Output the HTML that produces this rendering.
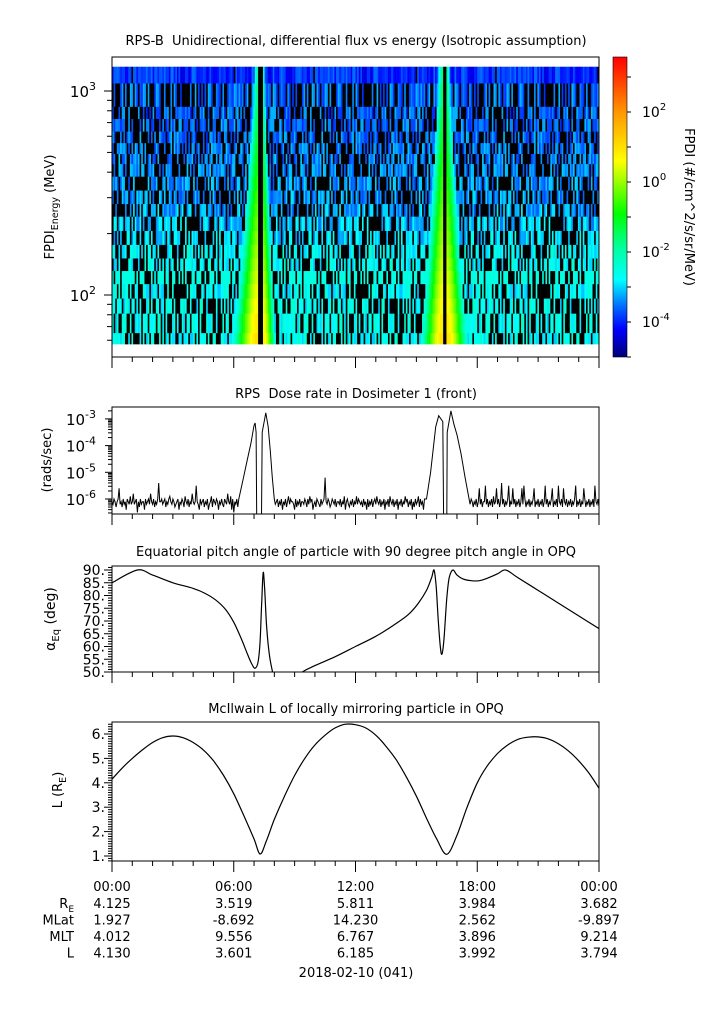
<!DOCTYPE html>
<html><head><meta charset="utf-8"><style>
body{margin:0;background:#fff}
svg{display:block;font-family:"DejaVu Sans","Liberation Sans",sans-serif}
text{fill:#000}
</style></head><body>
<svg id="chart" width="725" height="1019" viewBox="0 0 725 1019" xmlns="http://www.w3.org/2000/svg">
<defs>
<clipPath id="c1"><rect x="112" y="57" width="487" height="300"/></clipPath>
<clipPath id="c2"><rect x="112" y="407" width="487" height="107"/></clipPath>
<clipPath id="c3"><rect x="112" y="566" width="487" height="106"/></clipPath>
<clipPath id="c4"><rect x="112" y="722" width="487" height="139"/></clipPath>
<linearGradient id="cbg" x1="0" y1="1" x2="0" y2="0"></linearGradient>
</defs>
<text x="356" y="45" font-size="13" text-anchor="middle">RPS-B&#160; Unidirectional, differential flux vs energy (Isotropic assumption)</text>
<g id="spec" clip-path="url(#c1)"></g>
<rect x="112" y="57" width="487" height="300" fill="none" stroke="#000"/>
<text transform="translate(54,207) rotate(-90)" font-size="13" text-anchor="middle">FPDI<tspan font-size="9.5" dy="4">Energy</tspan><tspan dy="-4"> (MeV)</tspan></text>
<rect id="cbar" x="613" y="57" width="14" height="300" fill="url(#cbg)" stroke="#000" stroke-width="0.6"/>
<g id="cbticks"></g>
<text transform="translate(685,207) rotate(90)" font-size="13" text-anchor="middle">FPDI (#/cm^2/s/sr/MeV)</text>

<text x="356" y="398" font-size="13" text-anchor="middle">RPS&#160; Dose rate in Dosimeter 1 (front)</text>
<path id="dose" clip-path="url(#c2)" fill="none" stroke="#000" stroke-width="1"/>
<rect x="112" y="407" width="487" height="107" fill="none" stroke="#000"/>
<text transform="translate(51,460) rotate(-90)" font-size="13" text-anchor="middle">(rads/sec)</text>

<text x="356" y="556" font-size="13" text-anchor="middle">Equatorial pitch angle of particle with 90 degree pitch angle in OPQ</text>
<path id="pitch" clip-path="url(#c3)" fill="none" stroke="#000" stroke-width="1.2"/>
<rect x="112" y="566" width="487" height="106" fill="none" stroke="#000"/>
<text transform="translate(55,619) rotate(-90)" font-size="14" text-anchor="middle">α<tspan font-size="10" dy="4">Eq</tspan><tspan dy="-4"> (deg)</tspan></text>

<text x="356" y="713" font-size="13" text-anchor="middle">McIlwain L of locally mirroring particle in OPQ</text>
<path id="lsh" clip-path="url(#c4)" fill="none" stroke="#000" stroke-width="1.2"/>
<rect x="112" y="722" width="487" height="139" fill="none" stroke="#000"/>
<text transform="translate(62,790) rotate(-90)" font-size="13" text-anchor="middle">L (R<tspan font-size="9.5" dy="4">E</tspan><tspan dy="-4">)</tspan></text>

<g id="axes" stroke="#000" stroke-width="1"></g>
<g id="labels" font-size="14"></g>
<text x="356" y="977" font-size="13" text-anchor="middle">2018-02-10 (041)</text>
</svg>
<script>
// ---------- data ----------
const timeTicks = ['00:00','06:00','12:00','18:00','00:00'];
const rowNames = ['R_E','MLat','MLT','L'];
const ephemRE = ['4.125','3.519','5.811','3.984','3.682'];
const ephemMLat = ['1.927','-8.692','14.230','2.562','-9.897'];
const ephemMLT = ['4.012','9.556','6.767','3.896','9.214'];
const ephemL = ['4.130','3.601','6.185','3.992','3.794'];
// spectrogram
const energyEdges = [1315,1089,836,729,632,555,491,438,380,325,279,242,206,176,151,131,113,96,81,65,57.5];
const channelLevel = [-3.95,-3.6,-3.6,-3.55,-3.55,-3.5,-3.45,-3.4,-3.4,-3.35,-3.25,-3.1,-3.0,-2.75,-2.7,-2.7,-2.7,-2.7,-2.7,-2.7];
const noiseDigits = "3817250946183702945612839075163829470561928374650192837461509283746510293847561029384756120938475612749301856273";
const gapStart = [7.17, 16.32];
const gapEnd = [7.45, 16.50];
const beltEdge = [7.17, 7.45, 16.32, 16.50];
const beltDir = [-1, 1, -1, 1];
const beltWidthLow = [1.25, 0.65, 1.1, 1.05];
const beltWidthHigh = [0.25, 0.15, 0.4, 0.25];
const beltPeakLow = [1.1, 0.9, 1.1, 1.1];
const beltPeakHigh = [-2.0, -2.2, -1.7, -2.0];
// dose rate (log10 rads/sec)
const doseBgStart = [0, 8.05, 17.65];
const doseBgEnd = [6.2, 15.45, 24];
const doseBgCodes = [
 "5465356a45364526547458456153645526456485463546c556456354675465345625465375463548545b5426456354624573654652546436548547261546354",
 "4563546254635746554263546355465364756245365436456e5465346546355463547256435463547465453645263546356475463546254637546354625463547563546253645736452635",
 "465354635a46355b4635463745a4635c463546b354a46354635a4b635463546a3546354635b463546a35463b5463a54635463546b3546354a6354635463b5463a54634"];
const doseBeltHours = [[6.25,6.45,6.65,6.85,7.0,7.05,7.1,7.13,7.37,7.4,7.58,7.7,7.8,7.9,8.0],
 [15.5,15.7,15.85,15.95,16.1,16.3,16.34,16.5,16.52,16.7,16.85,17.0,17.2,17.4,17.6]];
const doseBeltLog = [[-6.0,-5.3,-4.6,-3.9,-3.25,-3.15,-3.5,-6.7,-6.7,-3.5,-2.77,-3.3,-4.2,-5.2,-6.0],
 [-6.0,-5.0,-4.0,-3.3,-2.88,-3.1,-6.7,-6.7,-3.5,-2.7,-3.2,-3.6,-4.3,-5.2,-6.0]];
// pitch angle
const pitchHours = [0,1.25,2,3,4,4.6,5.1,5.6,6.0,6.4,6.7,6.9,7.05,7.2,7.3,7.38,7.45,7.52,7.62,7.75,7.9,8.0,8.5,9.0,9.3,10,11,12,13,14,14.6,15.1,15.5,15.75,15.87,15.97,16.08,16.18,16.26,16.36,16.5,16.62,16.8,17.0,17.3,17.7,18.1,18.5,19.0,19.4,20,21,22,23,24];
const pitchDeg = [85,90,88,85,82.8,80.8,78.3,74.5,69.5,62.5,56.5,53,51.5,54,62,78,89,83,68,57,50.5,48,42,45,49.5,52.5,56,60,64,69,72.5,77,82,87,90,84,70,60,57,63,79,87,90,88,86.5,85.8,85.8,86.8,88.5,90,87,82,77,72,67];
// L shell
const lHours = [0,0.5,1,1.5,2,2.5,3,3.5,4,4.5,5,5.5,6,6.5,7,7.3,7.6,8,8.5,9,9.5,10,10.5,11,11.5,12,12.5,13,13.5,14,14.5,15,15.5,16,16.5,17,17.5,18,18.5,19,19.5,20,20.5,21,21.5,22,22.5,23,23.5,24];
const lVals = [4.15,4.6,5.0,5.35,5.65,5.85,5.92,5.85,5.65,5.35,4.9,4.3,3.55,2.65,1.7,1.08,1.6,2.5,3.45,4.3,5.0,5.55,5.95,6.25,6.4,6.38,6.25,5.95,5.5,4.95,4.25,3.45,2.55,1.7,1.07,1.85,3.0,4.0,4.7,5.2,5.55,5.78,5.87,5.88,5.8,5.6,5.3,4.9,4.4,3.78];
// colorbar
const cbMin = -5, cbMax = 3.57;
const cbTickExp = [2, 0, -2, -4];

// ---------- scales ----------
const NS = 'http://www.w3.org/2000/svg';
const X0 = 112, X1 = 599;
const xS = h => X0 + h * (X1 - X0) / 24;
const yE = e => 295 - (Math.log10(e) - 2) * 204;
const yDose = lg => 499 - (lg + 6) * 26.7;
const yPitch = d => 570 + (90 - d) * 2.55;
const yL = v => 856 - (v - 1) * 24.4;
const yCb = lg => 182 - lg * 35;
function el(tag, attrs, parent) { const e = document.createElementNS(NS, tag); for (const k in attrs) e.setAttribute(k, attrs[k]); parent.appendChild(e); return e; }

const stops = [[-5,[0,0,120]],[-4.2,[0,0,255]],[-3.6,[0,100,255]],[-2.8,[0,255,255]],[-1.9,[0,255,160]],[-0.9,[0,255,0]],[0.6,[255,255,0]],[2.0,[255,150,0]],[3.57,[255,0,0]]];
function cmap(v) {
  if (v <= stops[0][0]) return 'rgb(' + stops[0][1] + ')';
  for (let i = 1; i < stops.length; i++) {
    if (v <= stops[i][0]) {
      const a = stops[i-1], b = stops[i], t = (v - a[0]) / (b[0] - a[0]);
      return 'rgb(' + a[1].map((c, j) => Math.round(c + (b[1][j] - c) * t)).join(',') + ')';
    }
  }
  return 'rgb(255,0,0)';
}

// ---------- colorbar ----------
const grad = document.getElementById('cbg');
stops.forEach(s => { el('stop', {offset: ((s[0] - cbMin) / (cbMax - cbMin)).toFixed(3), 'stop-color': cmap(s[0])}, grad); });
const cbt = document.getElementById('cbticks');
for (let e = -5; e <= 3; e++) {
  const t = el('line', {x1: 627, x2: 631, y1: yCb(e), y2: yCb(e), stroke: '#000'}, cbt);
  
  
}
cbTickExp.forEach(e => {
  const t = el('text', {x: 642, y: yCb(e) + 5, 'font-size': 14}, cbt);
  
  
  t.innerHTML = '10<tspan font-size="10" dy="-7">' + e + '</tspan>';
});

// ---------- spectrogram ----------
const spec = document.getElementById('spec');
const NCOL = 300;
const dh = 24 / NCOL;
const nd = noiseDigits.length;
for (let ch = 0; ch < energyEdges.length - 1; ch++) {
  const yTop = yE(energyEdges[ch]), yBot = yE(energyEdges[ch + 1]);
  const eMid = Math.sqrt(energyEdges[ch] * energyEdges[ch + 1]);
  const f = (Math.log10(eMid) - Math.log10(57.5)) / (Math.log10(1315) - Math.log10(57.5));
  for (let c = 0; c < NCOL; c++) {
    const t = (c + 0.5) * dh;
    let inGap = false;
    for (let g = 0; g < gapStart.length; g++) if (t >= gapStart[g] && t <= gapEnd[g]) inGap = true;
    let color = null;
    if (!inGap) {
      const i1 = (c * c * 7 + c * 31 + ch * ch * 13 + ch * 57) % nd;
      const i2 = (c * 11 + ch * ch * 29 + c * ch * 3) % nd;
      const d = +noiseDigits[i1], d2 = +noiseDigits[i2];
      let v = channelLevel[ch] + (d2 - 4.5) * 0.09;
      let black = ch === 0 ? (d === 0 && d2 < 3) : d < 4;
      for (let b = 0; b < beltEdge.length; b++) {
        const dist = (t - beltEdge[b]) * beltDir[b];
        if (dist < 0) continue;
        const w = beltWidthLow[b] + (beltWidthHigh[b] - beltWidthLow[b]) * f;
        const pk = beltPeakLow[b] + (beltPeakHigh[b] - beltPeakLow[b]) * f;
        const bv = pk - 4.0 * Math.pow(dist / w, 1.6);
        if (bv > v) v = bv;
        if (bv > -2.9) black = false;
      }
      if (!black) color = cmap(v);
    }
    const r = el('rect', {x: (xS(c * dh)).toFixed(2), y: yTop.toFixed(2), width: ((X1 - X0) / NCOL + 0.3).toFixed(2), height: (yBot - yTop + 0.3).toFixed(2), fill: color || '#000'}, spec);
    
    
  }
}

// ---------- dose ----------
let dosePts = [];
const addBg = (i) => { for (let k = 0; k < doseBgCodes[i].length; k++) { const h = doseBgStart[i] + k * 0.05; if (h > doseBgEnd[i]) break; dosePts.push([h, -6.6 + parseInt(doseBgCodes[i][k], 16) * 0.1]); } };
addBg(0); doseBeltHours[0].forEach((h, i) => dosePts.push([h, doseBeltLog[0][i]]));
addBg(1); doseBeltHours[1].forEach((h, i) => dosePts.push([h, doseBeltLog[1][i]]));
addBg(2);
dosePts.sort((a, b) => a[0] - b[0]);
document.getElementById('dose').setAttribute('d', 'M' + dosePts.map(p => xS(p[0]).toFixed(1) + ',' + yDose(p[1]).toFixed(1)).join('L'));

// ---------- pitch / L ----------
function smooth(p) {
  let d = 'M' + p[0][0].toFixed(1) + ',' + p[0][1].toFixed(1);
  for (let i = 0; i < p.length - 1; i++) {
    const p0 = p[Math.max(0, i - 1)], p1 = p[i], p2 = p[i + 1], p3 = p[Math.min(p.length - 1, i + 2)];
    const c1 = [p1[0] + (p2[0] - p0[0]) / 6, p1[1] + (p2[1] - p0[1]) / 6];
    const c2 = [p2[0] - (p3[0] - p1[0]) / 6, p2[1] - (p3[1] - p1[1]) / 6];
    d += 'C' + c1.map(v => v.toFixed(1)) + ' ' + c2.map(v => v.toFixed(1)) + ' ' + p2[0].toFixed(1) + ',' + p2[1].toFixed(1);
  }
  return d;
}
document.getElementById('pitch').setAttribute('d', smooth(pitchHours.map((h, i) => [xS(h), yPitch(pitchDeg[i])])));
document.getElementById('lsh').setAttribute('d', smooth(lHours.map((h, i) => [xS(h), yL(lVals[i])])));

// ---------- axes ----------
const ax = document.getElementById('axes');
const lab = document.getElementById('labels');
function tick(x1, y1, x2, y2, name) {
  const t = el('line', {x1, y1, x2, y2}, ax);
  
  
}
[357, 514, 672, 861].forEach(yb => {
  for (let h = 0; h <= 24; h++) tick(xS(h), yb, xS(h), yb + (h % 6 === 0 ? 11 : 5), 'x-axis-tick');
});
[60,70,80,90,100,200,300,400,500,600,700,800,900,1000].forEach(e => { const m = e === 100 || e === 1000; tick(112, yE(e), m ? 104 : 107, yE(e), 'energy-tick'); });
[[2, 100], [3, 1000]].forEach(([ex, e]) => {
  const t = el('text', {x: 96, y: yE(e) + 6, 'text-anchor': 'end', 'font-size': 15}, lab);
  
  
  t.innerHTML = '10<tspan font-size="11" dy="-7">' + ex + '</tspan>';
});
for (let ex = -7; ex <= -3; ex++) for (let m = 1; m <= 9; m++) {
  const lg = ex + Math.log10(m); const y = yDose(lg);
  if (y < 407 || y > 514) continue;
  tick(112, y, m === 1 ? 105 : 108, y, 'dose-tick');
}
[-3, -4, -5, -6].forEach(ex => {
  const t = el('text', {x: 96, y: yDose(ex) + 6, 'text-anchor': 'end', 'font-size': 15}, lab);
  
  
  t.innerHTML = '10<tspan font-size="11" dy="-7">' + ex + '</tspan>';
});
for (let d = 50; d <= 91; d++) tick(112, yPitch(d), d % 5 === 0 ? 104 : 108, yPitch(d), 'pitch-tick');
for (let d = 50; d <= 90; d += 5) {
  const t = el('text', {x: 105, y: yPitch(d) + 5, 'text-anchor': 'end', 'font-size': 14}, lab);
  
  
  t.textContent = d + '.';
}
for (let v = 8; v <= 64; v++) { const y = yL(v / 10); if (y < 722 || y > 861) continue; tick(112, y, v % 10 === 0 ? 104 : 108, y, 'lshell-tick'); }
for (let v = 1; v <= 6; v++) {
  const t = el('text', {x: 105, y: yL(v) + 5, 'text-anchor': 'end', 'font-size': 14}, lab);
  
  
  t.textContent = v + '.';
}
timeTicks.forEach((s, i) => {
  const t = el('text', {x: xS(i * 6), y: 891, 'text-anchor': 'middle', 'font-size': 13}, lab);
  
  
  t.textContent = s;
});
const rows = [ephemRE, ephemMLat, ephemMLT, ephemL];
rows.forEach((arr, r) => {
  const y = 908 + r * 16.5;
  const n = el('text', {x: 74, y, 'text-anchor': 'end', 'font-size': 13}, lab);
  
  
  if (r === 0) n.innerHTML = 'R<tspan font-size="9" dy="4">E</tspan>'; else n.textContent = rowNames[r];
  arr.forEach((s, i) => {
    const t = el('text', {x: xS(i * 6), y, 'text-anchor': 'middle', 'font-size': 13}, lab);
    
    
    t.textContent = s;
  });
});
</script>
</body></html>
